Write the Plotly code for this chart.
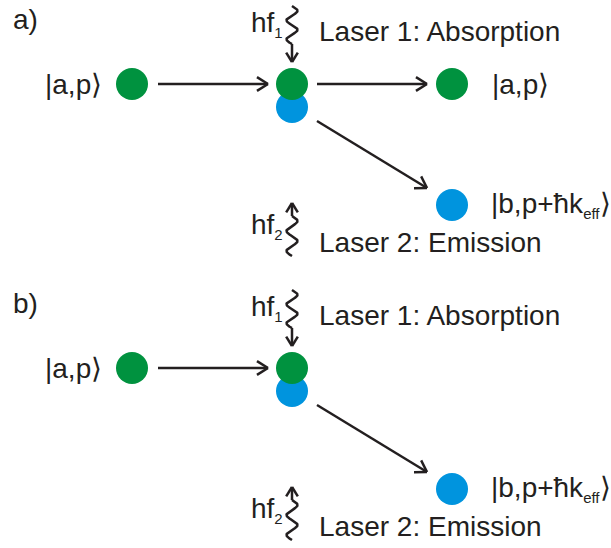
import numpy as np
import plotly.graph_objects as go

# ---- labels -------------------------------------------------------------
SUB = "<sub><span style='font-size:15px'>{}</span></sub>"
panel_labels = ["a)", "b)"]
initial_state = "|a,p⟩"
final_states = ["|a,p⟩", "|b,p+ħk" + SUB.format("eff") + "⟩"]
laser_labels = ["Laser 1: Absorption", "Laser 2: Emission"]
photon_labels = ["hf" + SUB.format("1"), "hf" + SUB.format("2")]
# which final states are shown in each panel (a: both paths, b: only b-path)
panel_final = [[True, True], [False, True]]

# ---- geometry (pixel units, y pointing down) ----------------------------
W, H = 611, 548
PANEL_DY = [0, 284]
X_LEFT, X_MID, X_RIGHT = 132, 292, 452
Y_ROW, Y_MID_BLUE, Y_LOW = 84, 107, 205
DOT = 32
GREEN = "#00923F"
BLUE = "#0094DE"
INK = "#231F20"
LW = 2.5
FONT = "Liberation Sans, Arial, sans-serif"
FS = 28

fig = go.Figure()
shapes = []
annotations = []


def arrow(x0, y0, x1, y1, head=13, spread=np.deg2rad(32)):
    shapes.append(dict(type="line", x0=x0, y0=y0, x1=x1, y1=y1,
                       line=dict(color=INK, width=LW)))
    ang = np.arctan2(y1 - y0, x1 - x0)
    for s in (-1, 1):
        a = ang + np.pi + s * spread
        shapes.append(dict(type="line", x0=x1, y0=y1,
                           x1=x1 + head * np.cos(a), y1=y1 + head * np.sin(a),
                           line=dict(color=INK, width=LW)))


def squiggle(xc, y0, y1, amp=5.5, periods=2.0):
    t = np.linspace(0, 1, 120)
    ys = y0 + (y1 - y0) * t
    xs = xc + amp * np.sin(2 * np.pi * periods * t)
    fig.add_trace(go.Scatter(x=xs, y=ys, mode="lines",
                             line=dict(color=INK, width=LW),
                             hoverinfo="skip", showlegend=False))


def text(x, y, s, anchor="left"):
    annotations.append(dict(x=x, y=y, text=s, showarrow=False,
                            xanchor=anchor, yanchor="middle",
                            font=dict(family=FONT, size=FS, color=INK)))


for p, dy in enumerate(PANEL_DY):
    show_a, show_b = panel_final[p]
    text(11, 19 + dy, panel_labels[p])

    # photons: absorbed from laser 1 (down), emitted into laser 2 (up)
    squiggle(X_MID, 6 + dy, 44 + dy)
    arrow(X_MID, 44 + dy, X_MID, 62 + dy, head=11)
    arrow(X_MID, 216 + dy, X_MID, 203 + dy, head=11)
    squiggle(X_MID, 216 + dy, 256 + dy)
    text(285, 24 + dy, photon_labels[0], anchor="right")
    text(285, 226 + dy, photon_labels[1], anchor="right")
    text(317, 31 + dy, laser_labels[0])
    text(317, 242 + dy, laser_labels[1])

    # state transitions
    arrow(158, Y_ROW + dy, 268, Y_ROW + dy)
    if show_a:
        arrow(317, Y_ROW + dy, 427, Y_ROW + dy)
    arrow(317, 121 + dy, 427, 188 + dy)

    text(43, Y_ROW + dy, initial_state)
    if show_a:
        text(490, Y_ROW + dy, final_states[0])
    if show_b:
        text(489, Y_LOW + dy, final_states[1])

    # atoms: blue (state b) below green (state a)
    bx = [X_MID, X_RIGHT] if show_b else [X_MID]
    by = [Y_MID_BLUE + dy, Y_LOW + dy] if show_b else [Y_MID_BLUE + dy]
    fig.add_trace(go.Scatter(x=bx, y=by, mode="markers",
                             marker=dict(size=DOT, color=BLUE, line=dict(width=0)),
                             hoverinfo="skip", showlegend=False))
    gx = [X_LEFT, X_MID] + ([X_RIGHT] if show_a else [])
    gy = [Y_ROW + dy] * len(gx)
    fig.add_trace(go.Scatter(x=gx, y=gy, mode="markers",
                             marker=dict(size=DOT, color=GREEN, line=dict(width=0)),
                             hoverinfo="skip", showlegend=False))

fig.update_layout(
    width=W, height=H,
    margin=dict(l=0, r=0, t=0, b=0, pad=0),
    paper_bgcolor="white", plot_bgcolor="white",
    xaxis=dict(range=[0, W], visible=False, fixedrange=True),
    yaxis=dict(range=[H, 0], visible=False, fixedrange=True),
    shapes=shapes, annotations=annotations,
    showlegend=False,
)

fig.write_html("out.html", config={"displayModeBar": False})
